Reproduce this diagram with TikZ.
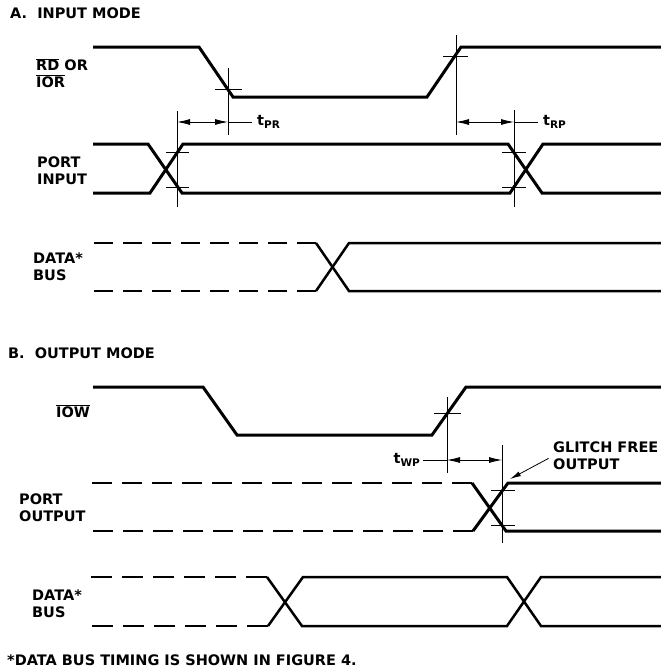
\documentclass[tikz,border=0pt]{standalone}
\usepackage{fontspec}
\setmainfont{DejaVu Sans}
\usetikzlibrary{arrows.meta,calc}

\newcommand{\olbar}[1]{$\overline{\mbox{#1}}$}
\newcommand{\tsub}[1]{t\raisebox{-3.5pt}{\fontsize{10.5}{10}\selectfont #1}}

\begin{document}
\begin{tikzpicture}[x=1pt,y=-1pt,
  font=\fontsize{14.5}{17}\selectfont\bfseries,
  sig/.style={line width=3pt},
  bus/.style={line width=2.5pt},
  fut/.style={line width=2.8pt,dash pattern=on #1pt off 10pt},
  guide/.style={line width=0.8pt},
  dim/.style={guide,{Latex[length=13pt,width=6pt]}-{Latex[length=13pt,width=6pt]}},
  lbl/.style={anchor=west,inner sep=0pt,align=left}]

\useasboundingbox (0,0) rectangle (661,670);

% A. input mode
\node[lbl] (ta) at (10,13) {A.\ \ INPUT MODE};
\node[lbl] (rdl) at (36,73) {\olbar{RD} OR\\\olbar{IOR}};
\node[lbl] (pil) at (37,171) {PORT\\INPUT};
\node[lbl] (dbl) at (33,267) {DATA*\\BUS};

\draw[sig] (93,47) -- (199,47) -- (233,97) -- (427,97) -- (461,47) -- (661,47);
\draw[sig] (93,144) -- (148,144) -- (182,193) -- (510,193) -- (543,144) -- (661,144);
\draw[sig] (93,193) -- (150,193) -- (183,144) -- (508,144) -- (542,193) -- (661,193);

\draw[fut=19] (316,243) -- (93,243);
\draw[fut=19] (316,291) -- (93,291);
\draw[bus] (316,243) -- (349,291) -- (661,291);
\draw[bus] (316,291) -- (349,243) -- (661,243);

\draw[guide] (228,68) -- (228,135) (215,89) -- (242,89);
\draw[guide] (177,111) -- (177,207) (166,152) -- (189,152) (166,187) -- (189,187);
\draw[guide] (456,35) -- (456,135) (443,56) -- (468,56);
\draw[guide] (514,110) -- (514,207) (502,152) -- (526,152) (502,187) -- (526,187);

\coordinate (pr1) at (177,122);
\coordinate (pr2) at (228,122);
\coordinate (rp1) at (456,122);
\coordinate (rp2) at (514,122);
\node[lbl] (tpr) at (257,122) {\tsub{PR}};
\node[lbl] (trp) at (543,122) {\tsub{RP}};
\draw[dim] (pr1) -- (pr2);
\draw[guide,shorten >=5pt] (pr2) -- (tpr.west);
\draw[dim] (rp1) -- (rp2);
\draw[guide,shorten >=5pt] (rp2) -- (trp.west);

% B. output mode
\node[lbl] (tb) at (8,353) {B.\ \ OUTPUT MODE};
\node[lbl] (iwl) at (56,411) {\olbar{IOW}};
\node[lbl] (pol) at (19,508) {PORT\\OUTPUT};
\node[lbl] (dbl2) at (32,604) {DATA*\\BUS};

\draw[sig] (93,387) -- (203,387) -- (237,435) -- (432,435) -- (466,387) -- (661,387);

\draw[fut=20] (472,483) -- (92,483);
\draw[fut=20] (473,531) -- (92,531);
\draw[sig] (472,483) -- (506,531) -- (661,531);
\draw[sig] (473,531) -- (508,483) -- (661,483);

\draw[fut=21] (267,577) -- (91,577);
\draw[fut=21] (268,626) -- (91,626);
\draw[bus] (267,577) -- (302,626) -- (507,626) -- (541,577) -- (661,577);
\draw[bus] (268,626) -- (303,577) -- (507,577) -- (541,626) -- (661,626);

\draw[guide] (447,397) -- (447,473) (434,413) -- (461,413);
\draw[guide] (502,445) -- (502,543) (491,490) -- (515,490) (491,525) -- (515,525);

\coordinate (wp1) at (447,460);
\coordinate (wp2) at (502,460);
\node[anchor=east,inner sep=0pt] (twp) at (420,460) {\tsub{WP}};
\draw[guide,shorten <=3pt] (twp.east) -- (wp1);
\draw[dim] (wp1) -- (wp2);

\node[lbl] (gfo) at (553,456) {GLITCH FREE\\OUTPUT};
\coordinate (gtip) at (510,479);
\draw[guide,-{Latex[length=11pt,width=5pt]},shorten <=5pt] (gfo.west) -- (gtip);

\node[lbl] (fn) at (7,660) {*DATA BUS TIMING IS SHOWN IN FIGURE 4.};
\end{tikzpicture}
\end{document}
